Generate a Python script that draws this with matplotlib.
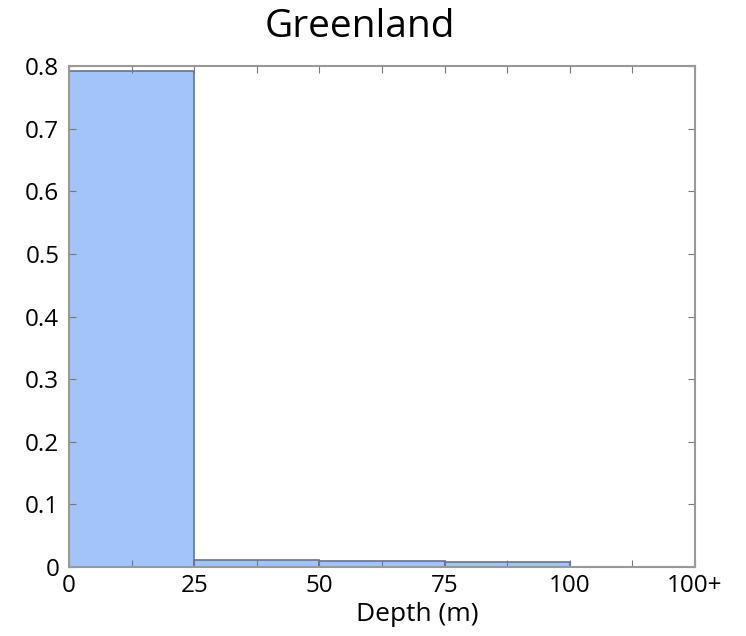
import numpy as np
import matplotlib.pyplot as plt

# bin edges (m) and fraction of points in each bin
bin_left = [0, 25, 50, 75, 100]
fraction = [0.792, 0.0105, 0.0095, 0.0075, 0.0]
bin_width = 25

tick_pos = [0, 25, 50, 75, 100, 125]
tick_labels = ['0', '25', '50', '75', '100', '100+']
y_ticks = [0, 0.1, 0.2, 0.3, 0.4, 0.5, 0.6, 0.7, 0.8]

fig = plt.figure(figsize=(7.46, 6.36), dpi=100)
ax = fig.add_axes([0.0925, 0.1085, 0.8391, 0.7875])

ax.bar(bin_left, fraction, width=bin_width, align='edge',
       color='#a3c3fb', edgecolor='#66738f', linewidth=1.2)

ax.set_xlim(0, 125)
ax.set_ylim(0, 0.8)

# ticks every 12.5, labels only on the 25s
all_x = np.arange(0, 125.1, 12.5)
ax.set_xticks(all_x)
labels = []
for v in all_x:
    if v in tick_pos:
        labels.append(tick_labels[tick_pos.index(v)])
    else:
        labels.append('')
ax.set_xticklabels(labels, family='Open Sans', fontsize=17.5)
ax.set_yticks(y_ticks)
ax.set_yticklabels(['0'] + [f'{v:.1f}' for v in y_ticks[1:]],
                   family='Open Sans', fontsize=17.5)

ax.tick_params(direction='in', length=5, width=0.8, color='#777777',
               top=True, right=True)
ax.tick_params(axis='x', pad=5)
ax.tick_params(axis='y', pad=7)

for s in ax.spines.values():
    s.set_color('#999999')
    s.set_linewidth(1.5)

ax.set_xlabel('Depth (m)', family='Open Sans', fontsize=19)
ax.xaxis.set_label_coords(0.556, -0.094)
ax.xaxis.label.set_va('center')

fig.suptitle('Greenland', family='Open Sans', fontsize=28, x=0.482, y=0.958, va='center')

fig.savefig('out.png', dpi=100)
